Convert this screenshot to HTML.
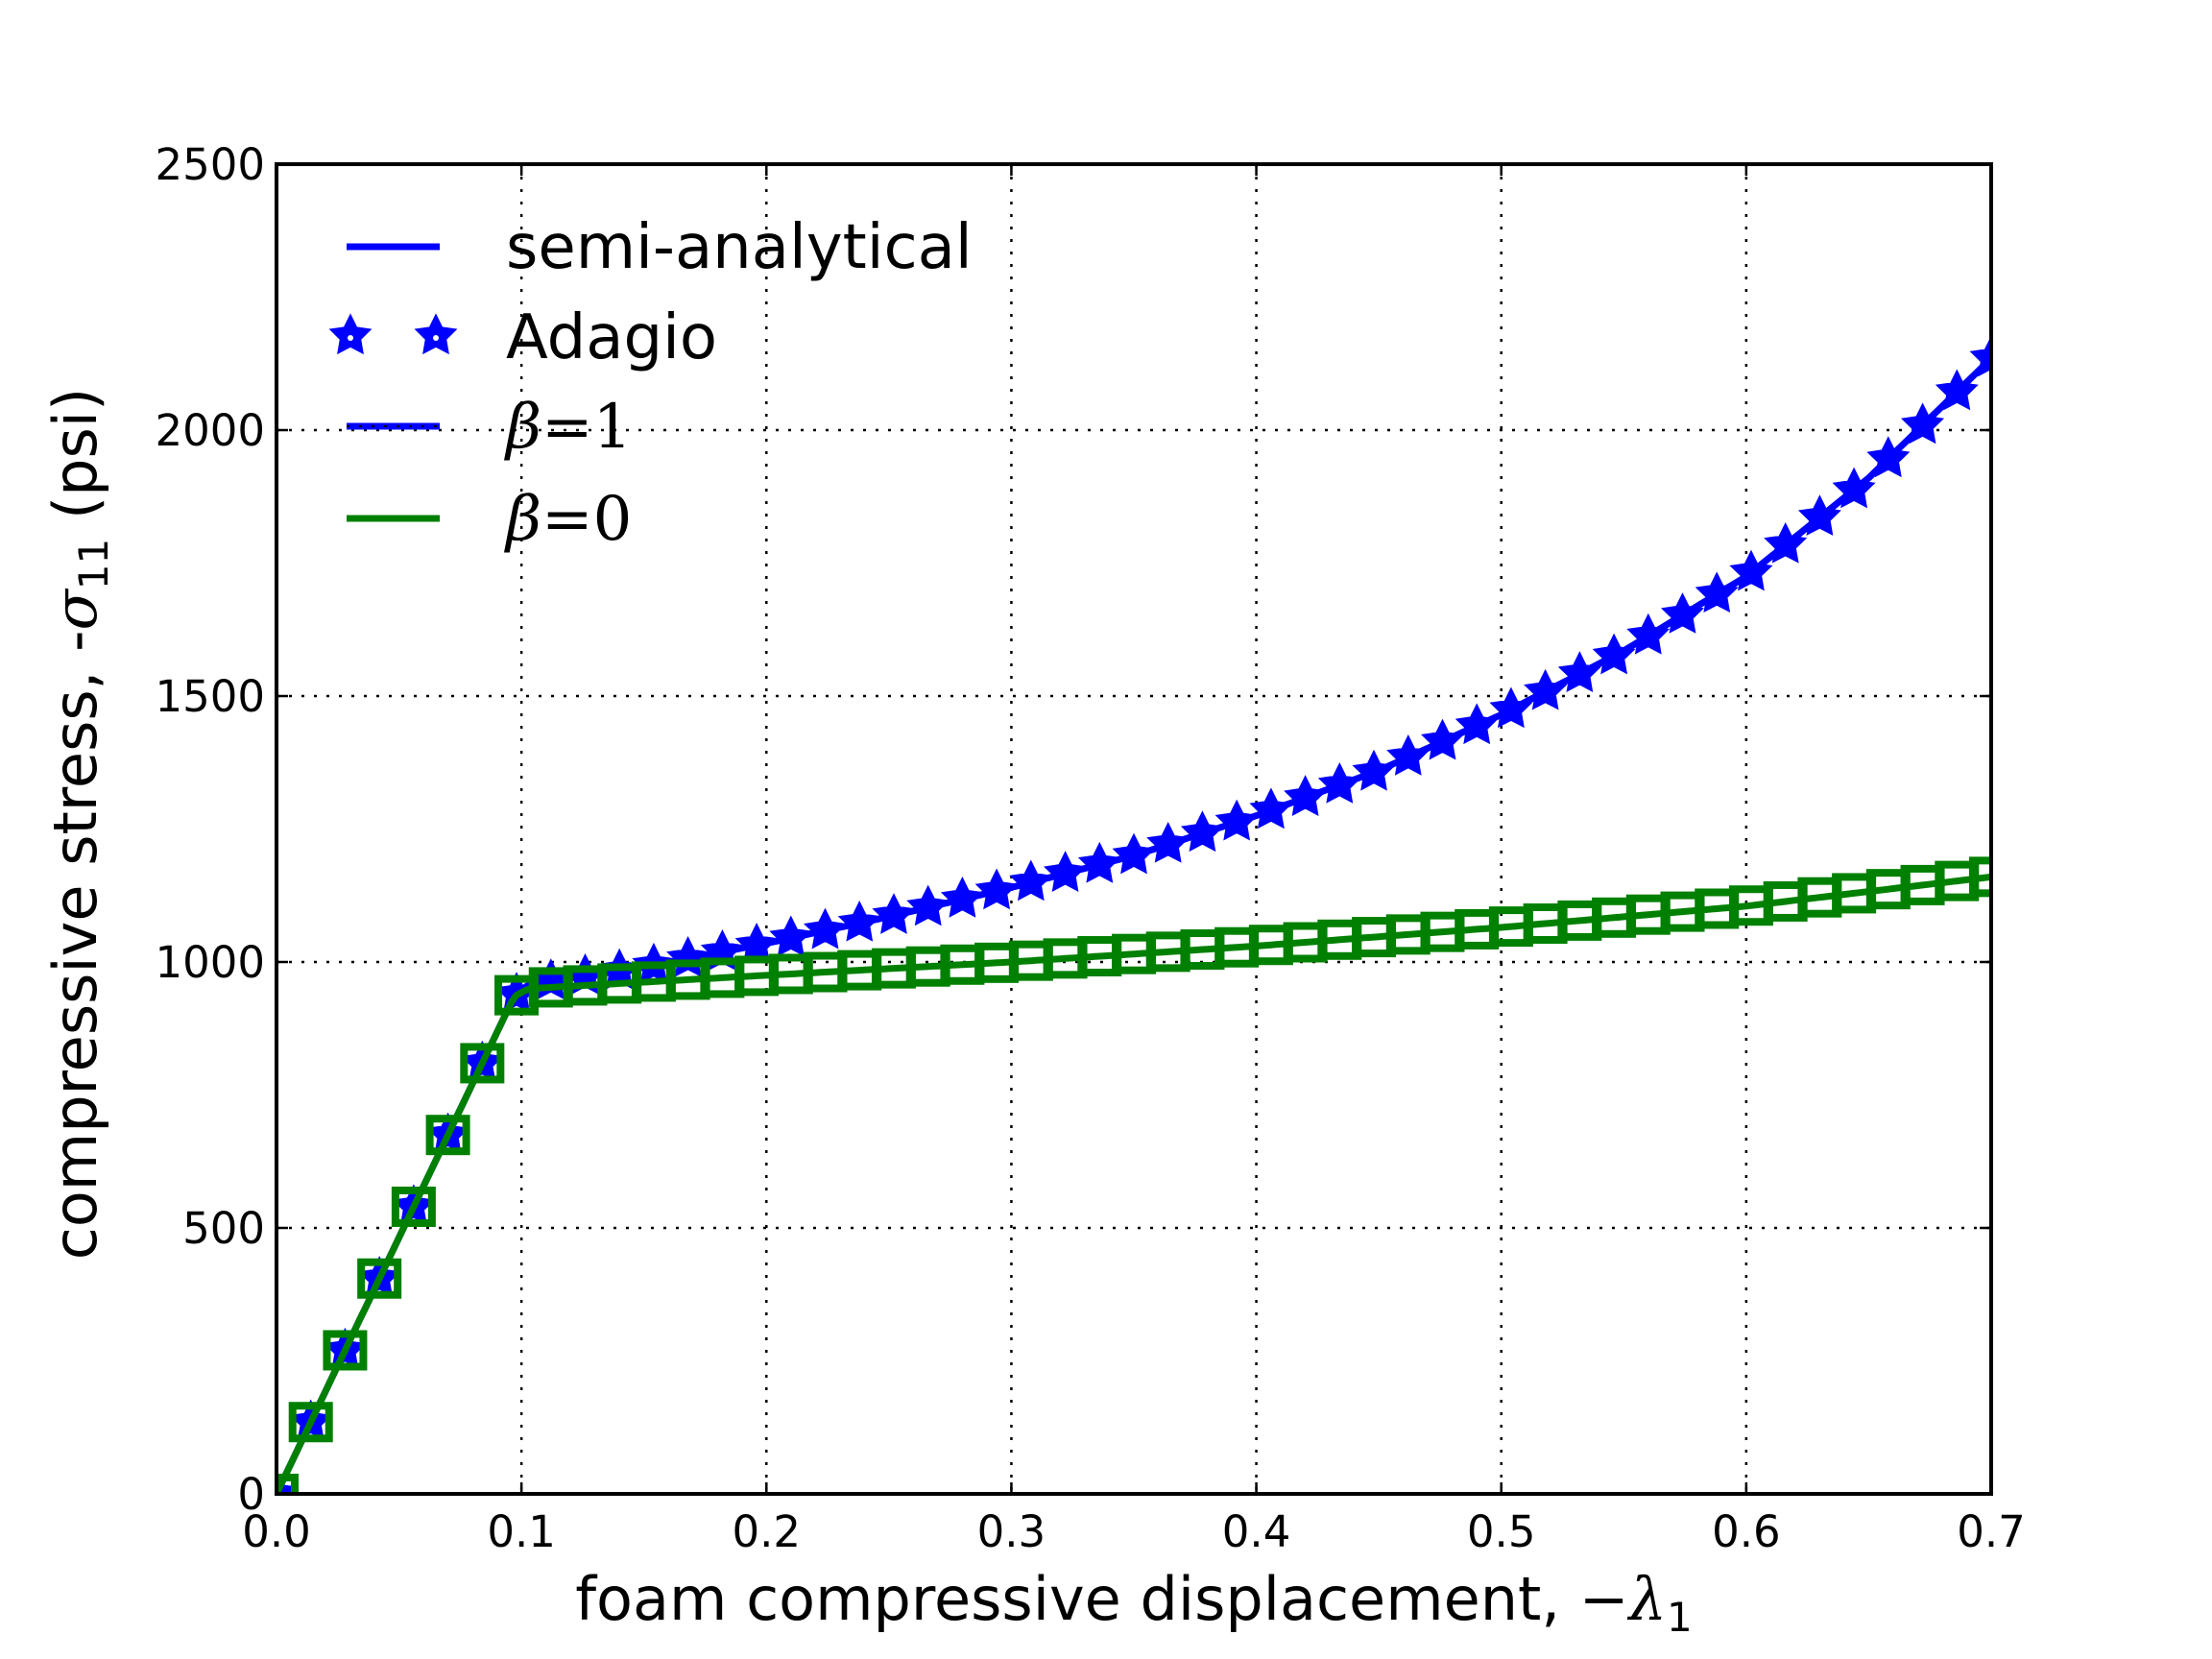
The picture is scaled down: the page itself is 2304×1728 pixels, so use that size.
<!DOCTYPE html>
<html><head><meta charset="utf-8"><style>
html,body{margin:0;padding:0;background:#fff;}
svg{display:block;}
text{font-family:"DejaVu Sans","Liberation Sans",sans-serif;fill:#000;}
.m{font-family:"DejaVu Serif","Liberation Serif",serif;font-style:italic;}
</style></head><body>
<svg id="s" width="2304" height="1728" viewBox="0 0 2304 1728" xmlns="http://www.w3.org/2000/svg">
<defs><clipPath id="cp"><rect x="288" y="171" width="1786" height="1385"/></clipPath></defs>
<rect width="2304" height="1728" fill="#fff"/>
<g id="grid" stroke="#000" stroke-width="2.5" stroke-dasharray="3,10"></g>
<g id="data" clip-path="url(#cp)"></g>
<rect x="288" y="171" width="1786" height="1385" fill="none" stroke="#000" stroke-width="4"/>
<g id="ticks" stroke="#000" stroke-width="2.5"></g>
<g id="lab" font-size="45"></g>
<text x="1181" y="1687" font-size="62" text-anchor="middle">foam compressive displacement, <tspan class="m">−λ</tspan><tspan font-size="42" dy="12">1</tspan></text>
<text transform="translate(100,858) rotate(-90)" font-size="62" text-anchor="middle">compressive stress, -<tspan class="m">σ</tspan><tspan font-size="42" dy="12">11</tspan><tspan dy="-12"> (psi)</tspan></text>
<g id="leg">
<line x1="361" y1="257" x2="458" y2="257" stroke="#0000ff" stroke-width="7"/>
<text x="527" y="279" font-size="64">semi-analytical</text>
<text x="527" y="373" font-size="64">Adagio</text>
<line x1="361" y1="444" x2="458" y2="444" stroke="#0000ff" stroke-width="7"/>
<line x1="361" y1="444" x2="458" y2="444" stroke="#000" stroke-width="2" stroke-dasharray="3,10"/>
<text x="527" y="466" font-size="64" class="m">β<tspan font-style="normal">=1</tspan></text>
<line x1="361" y1="540" x2="458" y2="540" stroke="#008000" stroke-width="7"/>
<text x="527" y="562" font-size="64" class="m">β<tspan font-style="normal">=0</tspan></text>
</g>
</svg>
<script>
var NS="http://www.w3.org/2000/svg";
var L=288,R=2074,T=171,B=1556;
function X(v){return L+v/0.7*(R-L);}
function Y(v){return B-v/2500*(B-T);}
function el(p,n,a){var e=document.createElementNS(NS,n);for(var k in a)e.setAttribute(k,a[k]);p.appendChild(e);return e;}
var g=document.getElementById('grid'),tk=document.getElementById('ticks'),lb=document.getElementById('lab'),d=document.getElementById('data');
for(var i=0;i<=7;i++){var x=X(i/10);if(i>0&&i<7)el(g,'line',{x1:x,y1:T,x2:x,y2:B});
el(tk,'line',{x1:x,y1:B,x2:x,y2:B-12});el(tk,'line',{x1:x,y1:T,x2:x,y2:T+12});
var t=el(lb,'text',{x:x,y:B+55,'text-anchor':'middle'});t.textContent=(i/10).toFixed(1);}
for(var j=0;j<=5;j++){var y=Y(j*500);if(j>0&&j<5)el(g,'line',{x1:L,y1:y,x2:R,y2:y});
el(tk,'line',{x1:L,y1:y,x2:L+12,y2:y});el(tk,'line',{x1:R,y1:y,x2:R-12,y2:y});
var t2=el(lb,'text',{x:L-12,y:y+16,'text-anchor':'end'});t2.textContent=j*500;}
function interp(pts,x){for(var i=0;i<pts.length-1;i++){if(x<=pts[i+1][0]){var a=pts[i],b=pts[i+1];var f=(x-a[0])/(b[0]-a[0]);return a[1]+f*(b[1]-a[1]);}}return pts[pts.length-1][1];}
var bp=[[0,0],[0.097,935],[0.103,958],[0.15,990],[0.2,1035],[0.25,1085],[0.3,1140],[0.35,1200],[0.4,1275],[0.45,1360],[0.5,1465],[0.55,1585],[0.6,1725],[0.65,1910],[0.7,2135]];
var gp=[[0,0],[0.097,935],[0.103,950],[0.2,975],[0.3,1000],[0.4,1030],[0.5,1065],[0.6,1105],[0.7,1160]];
function path(pts){var s='';for(var x=0;x<=0.7001;x+=0.002){s+=(s?'L':'M')+X(x).toFixed(1)+','+Y(interp(pts,x)).toFixed(1);}return s;}
el(d,'path',{d:path(bp),fill:'none',stroke:'#0000ff','stroke-width':7});
function star(cx,cy,r){var s='';for(var k=0;k<10;k++){var a=-Math.PI/2+k*Math.PI/5;var rr=k%2?r*0.5:r;s+=(k?'L':'M')+(cx+rr*Math.cos(a)).toFixed(1)+','+(cy+rr*Math.sin(a)).toFixed(1);}return s+'Z';}
var sd='';for(var k=0;k<=50;k++){var x=k*0.014;sd+=star(X(x),Y(interp(bp,x)),18);}
el(d,'path',{d:sd,fill:'#0000ff',stroke:'#0000ff','stroke-width':5,'stroke-linejoin':'miter'});
el(d,'path',{d:path(gp),fill:'none',stroke:'#008000','stroke-width':7});
for(var k=0;k<=50;k++){var x=k*0.014;var cx=X(x),cy=Y(interp(gp,x));el(d,'rect',{x:cx-19,y:cy-17,width:38,height:34,fill:'none',stroke:'#008000','stroke-width':8});}
var lg=document.getElementById('leg');
el(lg,'path',{d:star(365,350,18)+star(454,350,18),fill:'#0000ff',stroke:'#0000ff','stroke-width':5});
el(lg,'circle',{cx:365,cy:352,r:3,fill:'#fff'});el(lg,'circle',{cx:454,cy:352,r:3,fill:'#fff'});
</script>
</body></html>
